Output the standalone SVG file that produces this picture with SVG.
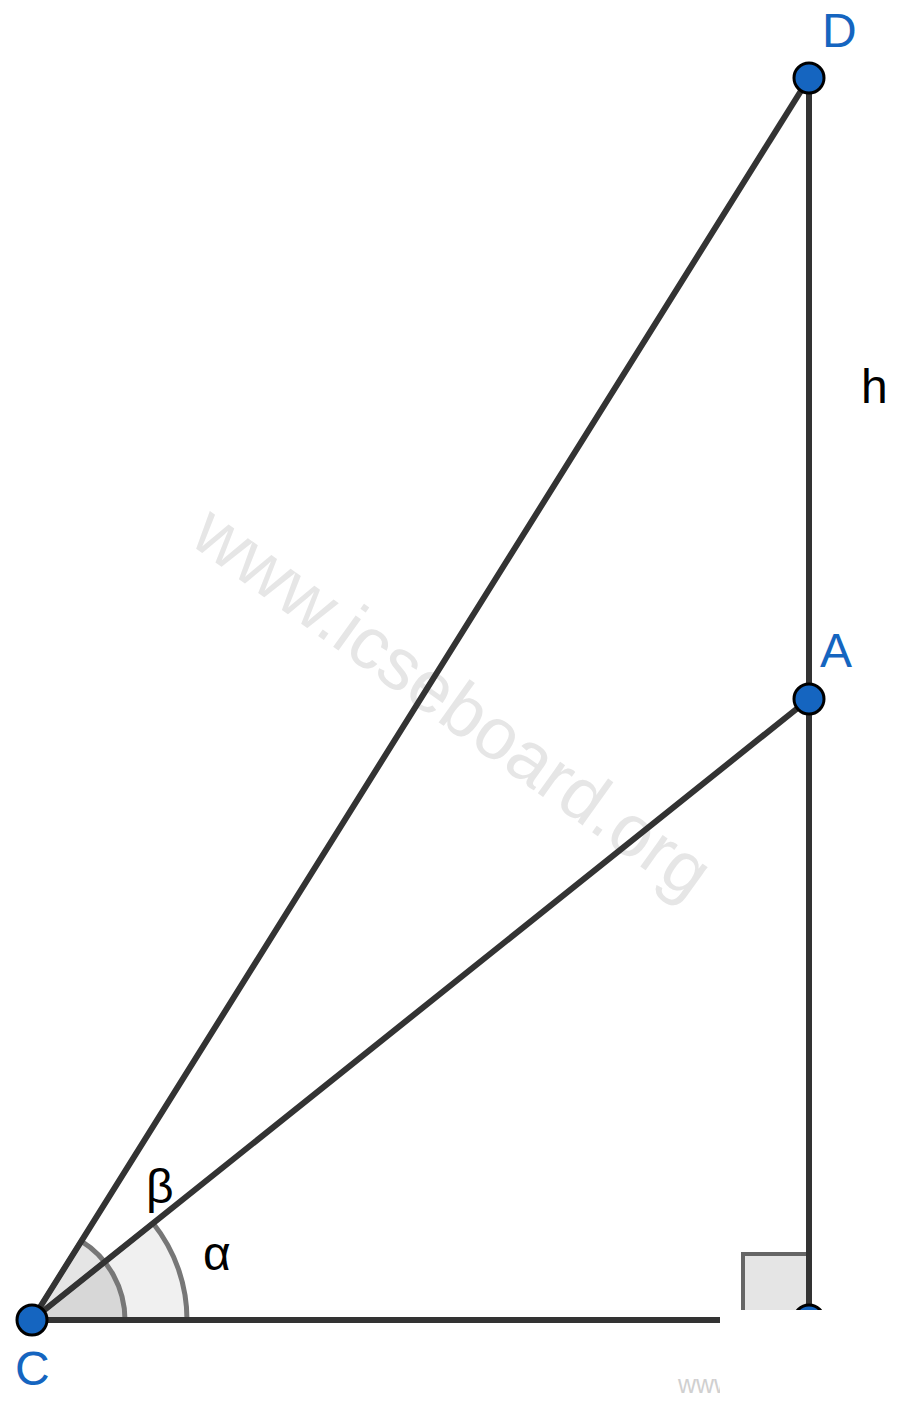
<svg xmlns="http://www.w3.org/2000/svg" width="899" height="1408" viewBox="0 0 899 1408">
<style>
.ln{stroke:#333;stroke-width:6;stroke-linecap:round;fill:none}
.pt{fill:#1565c0;stroke:#000;stroke-width:3}
.lbl{font-family:"Liberation Sans",Arial,sans-serif;font-size:48px;fill:#1565c0}
.sym{font-family:"Liberation Sans",Arial,sans-serif;font-size:48px;fill:#000}
.arc{stroke:#777;stroke-width:5;fill:#000}
</style>
<defs>
<clipPath id="leftClip"><rect x="0" y="0" width="720" height="1408"/></clipPath>
</defs>
<rect width="899" height="1408" fill="#fff"/>
<text x="451" y="704" transform="rotate(35.6 451 704)" dy="22" text-anchor="middle" font-family="Liberation Sans, Arial, sans-serif" font-size="73" fill="#e6e6e6">www.icseboard.org</text>
<g id="angles">
<path class="arc" fill-opacity="0.06" d="M32,1320 L187,1320 A155,155 0 0 0 153.1,1223.2 Z"/>
<path class="arc" fill-opacity="0.1" d="M32,1320 L125,1320 A93,93 0 0 0 81.3,1241.2 Z"/>
<rect x="743" y="1254" width="66" height="66" fill="#e5e5e5" stroke="#666" stroke-width="4"/>
</g>
<g id="connectors">
<line class="ln" x1="32" y1="1320" x2="809" y2="78"/>
<line class="ln" x1="32" y1="1320" x2="809" y2="699"/>
<line class="ln" x1="32" y1="1320" x2="809" y2="1320"/>
<line class="ln" x1="809" y1="78" x2="809" y2="1320"/>
</g>
<g id="node-D"><circle class="pt" cx="809" cy="78" r="15"/><text class="lbl" x="822" y="47">D</text></g>
<g id="node-A"><circle class="pt" cx="809" cy="699" r="15"/><text class="lbl" x="820" y="667">A</text></g>
<g id="node-B"><circle class="pt" cx="809" cy="1320" r="15"/></g>
<g id="node-C"><circle class="pt" cx="32" cy="1320" r="15"/><text class="lbl" x="15" y="1385">C</text></g>
<text class="sym" x="861" y="403">h</text>
<text class="sym" x="146" y="1203">β</text>
<text class="sym" x="203" y="1270">α</text>
<rect x="720" y="1310" width="179" height="98" fill="#fff"/>
<text x="678" y="1393" clip-path="url(#leftClip)" font-family="Liberation Sans, Arial, sans-serif" font-size="25" fill="#d0d0d0">www.icseboard.org</text>
</svg>
